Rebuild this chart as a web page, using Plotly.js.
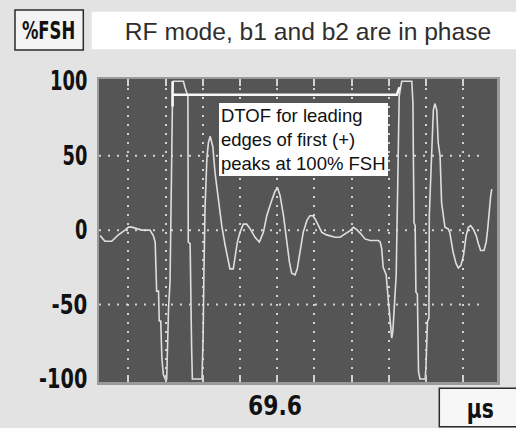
<!DOCTYPE html>
<html>
<head>
<meta charset="utf-8">
<script src="https://cdn.plot.ly/plotly-3.0.1.min.js"></script>
<style>
  html, body { margin: 0; padding: 0; background: #e3e3e3; }
  #chart { width: 516px; height: 428px; }
</style>
</head>
<body>
<div id="chart"></div>
<script>
// ---- data (x in screen divisions, y in %FSH) ----
const timeDiv = [0.24,0.37,0.55,0.73,0.91,1.00,1.09,1.23,1.36,1.58,1.67,1.72,1.74,1.76,1.81,1.83,1.87,1.90,1.94,1.99,
  2.03,2.05,2.08,2.12,2.15,2.18,2.19,2.21,2.48,2.52,2.60,2.61,2.66,2.70,2.72,2.98,3.01,3.03,3.06,3.11,
  3.15,3.20,3.27,3.33,3.42,3.51,3.60,3.69,3.73,3.82,3.87,3.93,4.00,4.09,4.18,4.27,4.41,4.52,4.63,4.72,
  4.85,4.94,5.01,5.08,5.17,5.24,5.33,5.39,5.48,5.54,5.62,5.70,5.80,5.88,5.96,6.02,6.11,6.20,6.33,6.42,
  6.56,6.69,6.83,6.96,7.05,7.14,7.25,7.36,7.50,7.72,7.77,7.81,7.85,7.93,7.96,7.99,8.02,8.05,8.08,8.11,
  8.14,8.17,8.20,8.23,8.25,8.28,8.32,8.35,8.62,8.65,8.66,8.68,8.71,8.73,8.77,8.80,8.84,8.98,9.00,9.04,
  9.08,9.09,9.13,9.16,9.20,9.24,9.29,9.33,9.38,9.42,9.47,9.51,9.60,9.64,9.73,9.81,9.87,9.94,10.01,10.08,
  10.14,10.20,10.27,10.35,10.41,10.47,10.56,10.62,10.66,10.70,10.74,10.77];
const ampFSH = [-3.7,-7.5,-7.5,-3.2,0,2,2,1,0,0,-3.7,-8,-19,-41,-41,-61,-61,-86,-97,-100,
  -100,-79,-52,-35,25,70,96,100,100,96,90,-8,-9,-79,-100,-100,-70,-30,14,48,
  58.5,63,56,38.5,18.5,3,-10,-21,-26,-26,-19,-8,-1.5,4,4,1,-5,-8,-1.5,9.7,
  19.7,26,28.5,23,9.7,-3.7,-21.5,-29,-30,-26,-12.5,-1.5,6.5,9.7,9.7,7.5,3,-1.5,-3.2,-3.7,
  -4.8,-4.8,-2.5,-0.3,1.9,0.3,-2.5,-5.9,-7,-7,-8,-12.5,-25,-30,-39,-48,-57,-66,-72.5,-68,
  -52.5,-41.5,-30,14,58.5,89.7,96,100,100,85,54,5,3,-41.5,-43,-95,-100,-100,-92,-61.5,
  -59,9.7,36,58.5,80.8,85,80.8,58.5,49.7,18.5,9.7,1.9,0.8,-1.5,-14.8,-22.5,-25.4,-23.7,-17,-3.7,
  1.9,3,0.8,-3.7,-9.2,-13.7,-13.7,-8,0.8,14,23,27.5];

const yTickVals = [-100, -50, 0, 50, 100];
const yTickText = ['-100', '-50', '0', '50', '100'];
const xGridVals = [1, 2, 3, 4, 5, 6, 7, 8, 9, 10];
const hGridVals = [50, 0, -50];
const titleText = 'RF mode, b1 and b2 are in phase';
const noteText = 'DTOF for leading<br>edges of first (+)<br>peaks at 100% FSH';
const yUnitText = '%FSH';
const xUnitText = 'µs';
const xReadout = '69.6';
const bracketLevel = 91;

// ---- layout geometry ----
const W = 516, H = 428;
const M = {l: 99, r: 19, t: 79, b: 46};
const PW = W - M.l - M.r, PH = H - M.t - M.b;
const px = x => (x - M.l) / PW;
const py = y => (H - M.b - y) / PH;

const boldFace = 'DejaVu Sans, Liberation Sans, sans-serif';
const sans = 'Liberation Sans, Arial, sans-serif';

// leading edge crossings of the two full-scale pulses
function upCrossing(k, level) {
  let n = 0;
  for (let i = 1; i < ampFSH.length; i++) {
    if (ampFSH[i - 1] < level && ampFSH[i] >= level) {
      n++;
      if (n === k) {
        const t = (level - ampFSH[i - 1]) / (ampFSH[i] - ampFSH[i - 1]);
        return timeDiv[i - 1] + t * (timeDiv[i] - timeDiv[i - 1]);
      }
    }
  }
  return null;
}
const c1 = upCrossing(1, bracketLevel);
const c2 = upCrossing(2, bracketLevel);

const xRange = [0.21, 10.91];
const yRange = [-102, 101.5];

const shapes = [
  {type: 'rect', xref: 'paper', yref: 'paper', x0: px(91.7), x1: px(530), y0: py(49.3), y1: py(11.7),
   fillcolor: '#ffffff', line: {width: 0}, layer: 'above'},
  {type: 'rect', xref: 'paper', yref: 'paper', x0: px(15), x1: px(83.3), y0: py(50), y1: py(10),
   fillcolor: '#f3f3f3', line: {color: '#2b2b2b', width: 1.5}},
  {type: 'rect', xref: 'paper', yref: 'paper', x0: px(439.3), x1: px(540), y0: py(426.8), y1: py(388.3),
   fillcolor: '#f7f7f7', line: {color: '#2b2b2b', width: 1.5}},
  {type: 'path', xref: 'x', yref: 'y',
   path: `M ${c1} 100 L ${c1} 83 M ${c1} ${bracketLevel} L ${c2 - 0.07} ${bracketLevel} L ${c2} 96`,
   line: {color: '#f8f8f8', width: 2.5}, layer: 'above'}
];
hGridVals.forEach(v => shapes.push({
  type: 'line', xref: 'x', yref: 'y', x0: xRange[0], x1: 10.45, y0: v, y1: v,
  line: {color: '#d2d2d2', width: 2, dash: '2px,7px'}, layer: 'below'
}));

const trace = {
  x: timeDiv, y: ampFSH, type: 'scatter', mode: 'lines',
  line: {color: '#dedede', width: 1.6}, hoverinfo: 'skip', showlegend: false
};

const layout = {
  width: W, height: H,
  margin: M,
  paper_bgcolor: '#e3e3e3',
  plot_bgcolor: '#555555',
  showlegend: false,
  title: {
    text: titleText, xref: 'container', yref: 'container',
    x: 308 / W, xanchor: 'center', y: 1 - 31 / H, yanchor: 'middle',
    font: {family: sans, size: 24.6, color: '#2e2e2e'}
  },
  xaxis: {
    range: xRange, tickvals: xGridVals, showticklabels: false,
    showgrid: true, gridcolor: '#d2d2d2', gridwidth: 2, griddash: '2px,7px',
    zeroline: false, ticks: 'inside', ticklen: 7, tickwidth: 2, tickcolor: '#d2d2d2',
    showline: true, linecolor: '#9a9a9a', linewidth: 2.5, mirror: 'ticks', fixedrange: true
  },
  yaxis: {
    range: yRange, tickvals: yTickVals, ticktext: yTickText,
    showgrid: false, zeroline: false, ticks: '',
    ticklabelstandoff: 4,
    tickfont: {family: boldFace, size: 26, color: '#111111', weight: 700},
    showline: true, linecolor: '#9a9a9a', linewidth: 2.5, mirror: true, fixedrange: true
  },
  shapes: shapes,
  annotations: [
    {xref: 'paper', yref: 'paper', x: px(48.5), y: py(30.5), text: yUnitText, showarrow: false,
     xanchor: 'center', yanchor: 'middle', font: {family: boldFace, size: 25, color: '#111111', weight: 700}},
    {xref: 'paper', yref: 'paper', x: px(480), y: py(409), text: xUnitText, showarrow: false,
     xanchor: 'center', yanchor: 'middle', font: {family: boldFace, size: 26, color: '#111111', weight: 700}},
    {xref: 'paper', yref: 'paper', x: px(275), y: py(406), text: xReadout, showarrow: false,
     xanchor: 'center', yanchor: 'middle', font: {family: boldFace, size: 26, color: '#111111', weight: 700}},
    {xref: 'paper', yref: 'paper', x: px(219.3), y: py(103.3), text: noteText, showarrow: false,
     xanchor: 'left', yanchor: 'top', align: 'left', bgcolor: '#ffffff', borderpad: 2, borderwidth: 0,
     font: {family: sans, size: 18.5, color: '#111111'}}
  ]
};

// the instrument font is a tall, narrow, monospaced face: squeeze glyphs to its widths
const charW = {'-': 11, '.': 12.5, '%': 13.5, 'µ': 13.5};
function squeeze(el, perChar) {
  const s = el.textContent;
  let w = 0;
  for (const ch of s) w += (charW[ch] !== undefined && perChar === 12.4) ? charW[ch] : perChar;
  el.setAttribute('textLength', w.toFixed(1));
  el.setAttribute('lengthAdjust', 'spacingAndGlyphs');
}

Plotly.newPlot('chart', [trace], layout, {staticPlot: true, displayModeBar: false}).then(gd => {
  gd.querySelectorAll('.ytick text').forEach(t => squeeze(t, 12.4));
  gd.querySelectorAll('.annotation-text').forEach(t => {
    const s = t.textContent;
    if (s === xReadout) squeeze(t, 13.5);
    else if (s === yUnitText) squeeze(t, 13.3);
    else if (s === xUnitText) squeeze(t, 13.5);
  });
});
</script>
</body>
</html>
